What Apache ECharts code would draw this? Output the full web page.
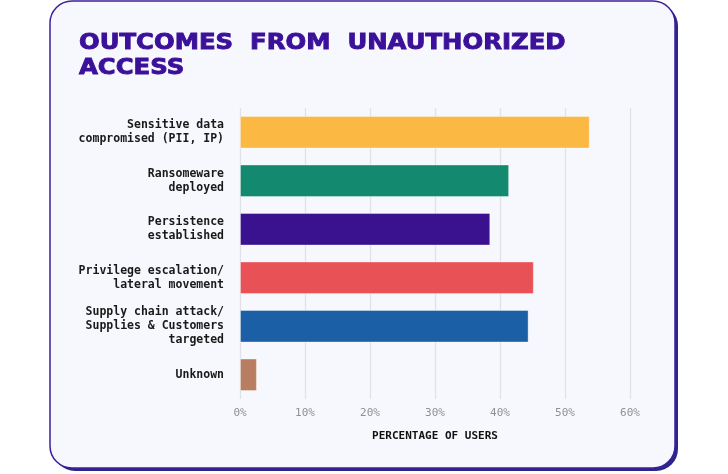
<!DOCTYPE html>
<html>
<head>
<meta charset="utf-8">
<script src="https://cdn.jsdelivr.net/npm/echarts@6/dist/echarts.min.js"></script>
<style>
html,body{margin:0;padding:0;background:#ffffff;}
#chart{width:728px;height:474px;}
</style>
</head>
<body>
<div id="chart"></div>
<script>
const titleText = "OUTCOMES  FROM  UNAUTHORIZED\nACCESS";
const categories = [
  "Sensitive data\ncompromised (PII, IP)",
  "Ransomeware\ndeployed",
  "Persistence\nestablished",
  "Privilege escalation/\nlateral movement",
  "Supply chain attack/\nSupplies & Customers\ntargeted",
  "Unknown"
];
const values = [53.8, 41.4, 38.5, 45.2, 44.4, 2.6];
const barColors = ["#fbb843", "#138a6f", "#3a1290", "#e85156", "#1b5fa6", "#b97e62"];
const xTicks = [0, 10, 20, 30, 40, 50, 60];
const axisName = "PERCENTAGE OF USERS";

const chart = echarts.init(document.getElementById('chart'), null, {renderer: 'canvas'});
const option = {
  animation: false,
  backgroundColor: '#ffffff',
  graphic: [
    {type: 'rect', z: -10, shape: {x: 53, y: 4, width: 625, height: 467, r: 22}, style: {fill: '#2c2685'}},
    {type: 'rect', z: -9, shape: {x: 50, y: 1, width: 625, height: 467, r: 22}, style: {fill: '#f7f8fd', stroke: '#3b1fa0', lineWidth: 1.5}},
    {
      type: 'text', z: 10, x: 79, y: 31, scaleX: 1.16, originX: 0,
      style: {
        text: titleText,
        fill: '#3b1199',
        stroke: '#3b1199',
        lineWidth: 0.9,
        font: 'bold 21px "DejaVu Sans"',
        lineHeight: 25,
        verticalAlign: 'top',
        align: 'left'
      }
    }
  ],
  grid: {left: 240, right: 98, top: 108, bottom: 75, containLabel: false},
  xAxis: {
    type: 'value',
    min: xTicks[0],
    max: xTicks[xTicks.length - 1],
    interval: 10,
    axisLine: {show: false},
    axisTick: {show: false},
    splitLine: {show: true, lineStyle: {color: '#e1e2e8', width: 1.3}},
    axisLabel: {
      formatter: v => v + '%',
      color: '#8f8f96',
      fontFamily: 'DejaVu Sans Mono',
      fontSize: 11,
      margin: 9
    },
    name: axisName,
    nameLocation: 'middle',
    nameGap: 32,
    nameTextStyle: {
      color: '#111111',
      fontFamily: 'DejaVu Sans Mono',
      fontWeight: 'bold',
      fontSize: 11
    }
  },
  yAxis: {
    type: 'category',
    data: categories,
    inverse: true,
    axisLine: {show: false},
    axisTick: {show: false},
    splitLine: {show: false},
    axisLabel: {
      color: '#1a1a1a',
      fontFamily: 'DejaVu Sans Mono',
      fontWeight: 'bold',
      fontSize: 11.5,
      lineHeight: 14,
      margin: 16,
      align: 'right'
    }
  },
  series: [{
    type: 'bar',
    data: values.map((v, i) => ({value: v, itemStyle: {color: barColors[i]}})),
    barWidth: 32.5,
    itemStyle: {borderColor: 'rgba(255,255,255,0.35)', borderWidth: 1}
  }]
};
chart.setOption(option);
</script>
</body>
</html>
